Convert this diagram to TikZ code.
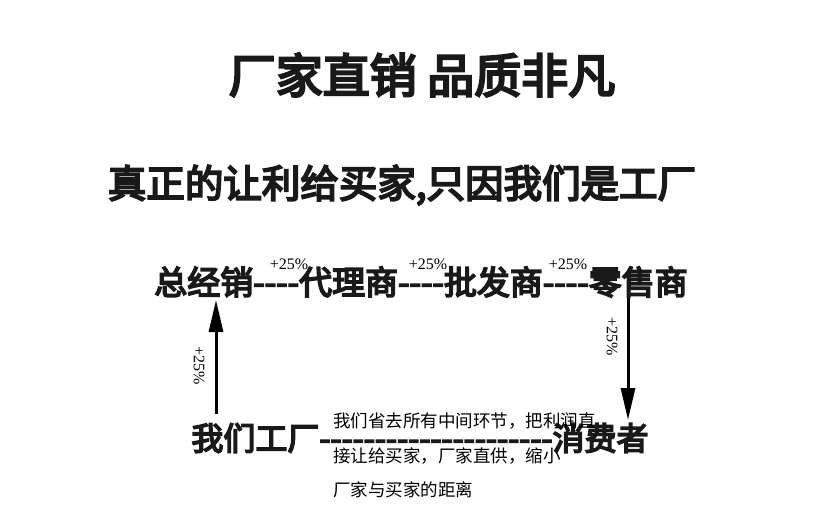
\documentclass[tikz,border=0pt]{standalone}
\usepackage{fontspec}
\newfontfamily\cjk[FakeBold=5]{Noto Sans CJK SC}
\newfontfamily\cjkr{Noto Sans CJK SC}
\setmainfont{Liberation Serif}
\tikzset{
  big/.style={font=\cjk\fontsize{#1}{#1}\selectfont, inner sep=0pt, text=black!90},
  sm/.style={font=\cjkr\fontsize{17.5}{17.5}\selectfont, inner sep=0pt, anchor=west},
  pct/.style={font=\fontsize{16}{16}\selectfont, inner sep=0pt},
  arr/.style={line width=3pt, -{Triangle[length=32pt,width=14pt]}}
}
\usetikzlibrary{arrows.meta}
\begin{document}
\begin{tikzpicture}[x=1pt,y=-1pt]
\useasboundingbox[fill=white] (0,0) rectangle (830,531);
\node[big=47] (t) at (422,75) {厂家直销 品质非凡};
\node[big=38.5] (s) at (402,185) {真正的让利给买家,只因我们是工厂};
\node[big=33] (r) at (421,282) {总经销----代理商----批发商----零售商};
\node[big=32] (b) at (420,438) {我们工厂---------------------消费者};
\node[pct] (p1) at (289,264) {+25\%};
\node[pct] (p2) at (428,264) {+25\%};
\node[pct] (p3) at (568,264) {+25\%};
\coordinate (la) at (216,414);
\coordinate (lb) at (216,300);
\coordinate (ra) at (628,298);
\coordinate (rb) at (628,420);
\draw[arr] (la) -- (lb);
\draw[arr] (ra) -- (rb);
\node[pct, rotate=-90] (p4) at (199,366) {+25\%};
\node[pct, rotate=-90] (p5) at (612,337) {+25\%};
\node[sm] (m1) at (333,421) {我们省去所有中间环节，把利润直};
\node[sm] (m2) at (333,456) {接让给买家，厂家直供，缩小};
\node[sm] (m3) at (333,490) {厂家与买家的距离};
\end{tikzpicture}
\end{document}
